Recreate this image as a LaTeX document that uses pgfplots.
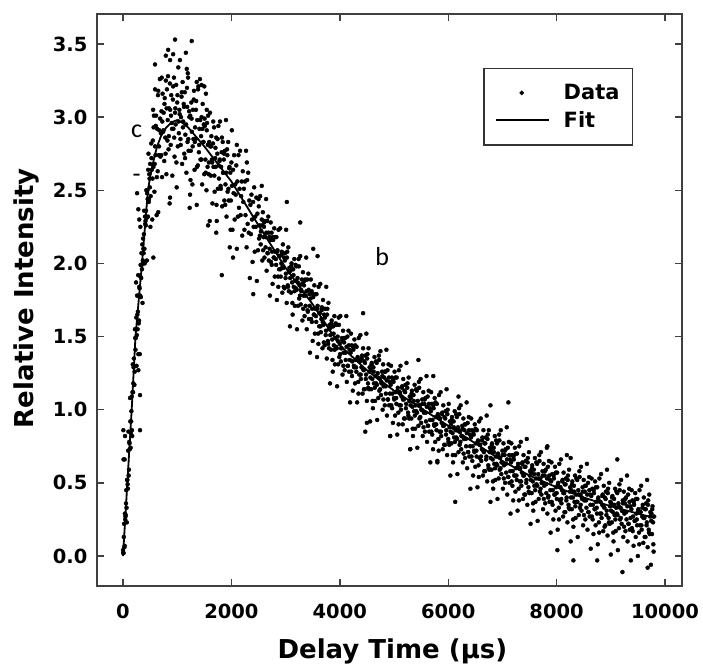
\documentclass[border=0pt]{standalone}
\usepackage{fontspec}
\setmainfont{DejaVu Sans}
\newfontfamily\calibri{Carlito}
\usepackage{pgfplots}
\pgfplotsset{compat=1.18}
\pgfplotsset{
  dotleg/.style={legend image code/.code={\draw[black, only marks, mark=*, mark size=1.4pt] plot coordinates {(26pt,0pt)};}},
  lineleg/.style={legend image code/.code={\draw[black, line width=1.8pt] (0pt,0pt) -- (53pt,0pt);}},
}
\begin{document}
\begin{tikzpicture}
\useasboundingbox (0,0) rectangle (703pt,664pt);
\begin{axis}[
  at={(97pt,78pt)}, anchor=south west,
  width=585pt, height=572pt, scale only axis,
  xmin=-480, xmax=10314, ymin=-0.205, ymax=3.705,
  xtick={0,2000,4000,6000,8000,10000},
  ytick={0,0.5,1,1.5,2,2.5,3,3.5},
  scaled x ticks=false,
  tick align=inside, major tick length=7pt,
  every tick/.style={black!75, line width=1.4pt},
  axis line style={black!75, line width=2pt},
  /pgf/number format/assume math mode=true,
  tick label style={font=\bfseries\fontsize{19.5}{19.5}\selectfont},
  xticklabel style={yshift=-14pt, /pgf/number format/1000 sep={}},
  yticklabel style={xshift=-6pt, /pgf/number format/fixed, /pgf/number format/fixed zerofill, /pgf/number format/precision=1},
  xlabel={Delay Time (µs)}, ylabel={Relative Intensity},
  label style={font=\bfseries\fontsize{26}{26}\selectfont},
  xlabel style={at={(axis description cs:0.505,-0.126)}, anchor=base},
  ylabel style={at={(axis description cs:-0.109,0.503)}, anchor=base},
  legend style={at={(axis description cs:0.66,0.906)}, anchor=north west,
    draw=black!80, line width=1.5pt, font=\bfseries\fontsize{21}{21}\selectfont,
    inner xsep=11pt, inner ysep=14pt, row sep=6pt, column sep=12pt},
  legend cell align=left,
]
% measured data
\addplot[only marks, mark=*, mark size=2pt, black, dotleg]
coordinates {
(0,0.04)(10,0.02)(20,0.22)(30,0.07)(40,0.25)(50,0.28)(60,0.45)(70,0.23)(80,0.52)(90,0.46)
(100,0.85)(110,0.59)(120,0.77)(130,1.08)(140,0.74)(150,0.92)(160,1.09)(170,0.82)(180,1.31)(190,1.18)
(200,1.35)(210,1.17)(220,1.55)(230,1.41)(240,1.87)(250,1.30)(260,1.78)(270,1.55)(280,1.92)(290,1.59)
(300,1.84)(310,1.38)(320,1.91)(330,1.77)(340,2.07)(350,1.96)(360,1.73)(370,2.17)(380,2.07)(390,2.36)
(400,2.00)(410,2.27)(420,2.26)(430,2.50)(440,2.02)(450,2.50)(460,2.32)(470,2.75)(480,2.44)(490,2.58)
(5,0.02)(15,0.13)(25,0.06)(35,0.29)(45,0.27)(55,0.36)(65,0.33)(75,0.52)(85,0.49)(95,0.72)
(105,0.55)(115,0.78)(125,0.73)(135,0.92)(145,0.84)(155,0.99)(165,0.86)(175,1.12)(185,1.12)(195,1.29)
(205,1.30)(215,1.26)(225,1.49)(235,1.49)(245,1.63)(255,1.51)(265,1.65)(275,1.67)(285,1.78)(295,1.61)
(305,1.83)(315,1.78)(325,1.99)(335,1.90)(345,1.99)(355,2.13)(365,2.02)(375,2.10)(385,2.20)(395,2.10)
(405,2.32)(415,2.29)(425,2.36)(435,2.31)(445,2.48)(455,2.44)(465,2.64)(475,2.42)(485,2.61)(495,2.52)
(314,0.86)(283,1.38)(283,1.27)(314,1.10)(6,0.86)(37,0.82)(10,0.66)(30,0.66)(283,2.37)(260,2.48)(300,2.30)(320,2.25)
(500,2.68)(510,2.46)(520,2.82)(530,2.64)(540,2.30)(550,2.84)(560,2.66)(570,3.01)(580,2.49)(590,2.80)
(600,2.74)(610,3.01)(620,2.33)(630,2.92)(640,2.63)(650,3.18)(660,2.74)(670,2.91)(680,3.26)(690,2.73)
(700,2.89)(710,3.04)(720,2.59)(730,3.16)(740,2.90)(750,3.03)(760,2.70)(770,3.13)(780,2.86)(790,3.42)
(800,2.61)(810,3.19)(820,2.84)(830,3.28)(840,2.78)(850,3.06)(860,2.41)(870,3.05)(880,2.81)(890,3.15)
(900,2.96)(910,2.60)(920,3.12)(930,2.92)(940,3.27)(950,2.73)(960,3.03)(970,2.95)(980,3.22)(990,2.52)
(1000,3.10)(1010,2.80)(1020,3.34)(1030,2.89)(1040,3.05)(1050,3.39)(1060,2.85)(1070,3.00)(1080,3.14)(1090,2.68)
(1100,3.24)(1110,2.97)(1120,3.09)(1130,2.75)(1140,3.17)(1150,2.88)(1160,3.44)(1170,2.62)(1180,3.20)(1190,2.83)
(1200,3.27)(1210,2.77)(1220,3.04)(1230,2.38)(1240,3.01)(1250,2.77)(1260,3.10)(1270,2.90)(1280,2.54)(1290,3.05)
(1300,2.85)(1310,3.18)(1320,2.64)(1330,2.93)(1340,2.85)(1350,3.11)(1360,2.40)(1370,2.98)(1380,2.67)(1390,3.21)
(1400,2.76)(1410,2.92)(1420,3.26)(1430,2.71)(1440,2.87)(1450,3.00)(1460,2.54)(1470,3.09)(1480,2.83)(1490,2.95)
(1500,2.61)(1510,2.94)(1520,2.71)(1530,3.16)(1540,2.50)(1550,2.96)(1560,2.66)(1570,3.01)(1580,2.61)(1590,2.83)
(1600,2.29)(1610,2.80)(1620,2.60)(1630,2.87)(1640,2.71)(1650,2.41)(1660,2.82)(1670,2.66)(1680,2.93)(1690,2.49)
(1700,2.72)(1710,2.66)(1720,2.86)(1730,2.29)(1740,2.75)(1750,2.51)(1760,2.94)(1770,2.58)(1780,2.70)(1790,2.97)
(1800,2.53)(1810,2.66)(1820,2.76)(1830,2.39)(1840,2.83)(1850,2.62)(1860,2.71)(1870,2.43)(1880,2.77)(1890,2.54)
(1900,2.98)(1910,2.32)(1920,2.78)(1930,2.49)(1940,2.83)(1950,2.43)(1960,2.65)(1970,2.11)(1980,2.62)(1990,2.43)
(2000,2.69)(2010,2.53)(2020,2.23)(2030,2.64)(2040,2.48)(2050,2.74)(2060,2.30)(2070,2.54)(2080,2.47)(2090,2.67)
(2100,2.10)(2110,2.56)(2120,2.32)(2130,2.74)(2140,2.38)(2150,2.51)(2160,2.77)(2170,2.33)(2180,2.46)(2190,2.56)
(2200,2.19)(2210,2.63)(2220,2.42)(2230,2.51)(2240,2.23)(2250,2.56)(2260,2.33)(2270,2.77)(2280,2.11)(2290,2.57)
(2300,2.27)(2310,2.62)(2320,2.21)(2330,2.43)(2340,1.90)(2350,2.40)(2360,2.20)(2370,2.47)(2380,2.30)(2390,2.01)
(2400,2.42)(2410,2.25)(2420,2.52)(2430,2.08)(2440,2.32)(2450,2.25)(2460,2.45)(2470,1.88)(2480,2.34)(2490,2.09)
(505,2.25)(525,2.72)(545,2.58)(565,2.93)(585,2.68)(605,2.94)(625,2.59)(645,3.15)(665,2.80)(685,2.99)
(705,2.74)(725,2.97)(745,2.91)(765,3.09)(785,2.75)(805,3.06)(825,2.98)(845,2.87)(865,3.23)(885,3.01)
(905,2.92)(925,3.21)(945,2.86)(965,3.06)(985,2.69)(1005,3.15)(1025,2.97)(1045,3.02)(1065,2.81)(1085,3.17)
(1105,2.93)(1125,3.07)(1145,2.72)(1165,2.95)(1185,3.07)(1205,2.85)(1225,3.00)(1245,2.57)(1265,2.99)(1285,2.80)
(1305,3.12)(1325,2.83)(1345,3.05)(1365,2.66)(1385,3.19)(1405,2.81)(1425,2.98)(1445,2.71)(1465,2.92)(1485,2.83)
(1505,2.99)(1525,2.62)(1545,2.91)(1565,2.81)(1585,2.69)(1605,3.03)(1625,2.80)(1645,2.69)(1665,2.97)(1685,2.60)
(1705,2.79)(1725,2.40)(1745,2.85)(1765,2.67)(1785,2.71)(1805,2.51)(1825,2.86)(1845,2.62)(1865,2.75)(1885,2.40)
(1905,2.62)(1925,2.74)(1945,2.51)(1965,2.66)(1985,2.23)
(960,3.53)(1268,3.52)(833,3.46)(925,3.43)(591,3.36)(868,3.39)(1176,3.33)(1195,3.30)(714,3.27)(790,3.25)
(1360,3.24)(1450,3.22)(1500,3.21)(591,3.19)(1545,3.05)(555,3.05)(2008,2.91)(2100,2.81)(2285,2.69)(2560,2.53)
(3023,2.42)(3270,2.28)(3510,2.10)(3590,2.05)(4430,1.66)(1823,1.92)(2403,1.79)(2030,2.04)(1720,2.21)(868,2.45)
(1237,2.47)(650,2.35)(1570,2.26)(560,2.04)
(2500,2.44)(2510,2.17)(2520,2.26)(2530,2.46)(2540,2.13)(2550,2.22)(2560,2.30)(2570,2.02)(2580,2.35)(2590,2.18)
(2600,2.25)(2610,2.04)(2620,2.29)(2630,2.11)(2640,2.44)(2650,1.95)(2660,2.29)(2670,2.07)(2680,2.32)(2690,2.02)
(2700,2.18)(2710,1.78)(2720,2.16)(2730,2.01)(2740,2.21)(2750,2.08)(2760,1.86)(2770,2.16)(2780,2.04)(2790,2.24)
(2800,1.91)(2810,2.08)(2820,2.03)(2830,2.18)(2840,1.75)(2850,2.09)(2860,1.91)(2870,2.23)(2880,1.96)(2890,2.05)
(2900,2.24)(2910,1.91)(2920,2.00)(2930,2.08)(2940,1.80)(2950,2.13)(2960,1.97)(2970,2.04)(2980,1.83)(2990,2.07)
(3000,1.90)(3010,2.23)(3020,1.73)(3030,2.08)(3040,1.85)(3050,2.11)(3060,1.81)(3070,1.97)(3080,1.57)(3090,1.95)
(3100,1.80)(3110,2.00)(3120,1.87)(3130,1.65)(3140,1.96)(3150,1.84)(3160,2.03)(3170,1.71)(3180,1.88)(3190,1.83)
(3200,1.98)(3210,1.55)(3220,1.90)(3230,1.71)(3240,2.03)(3250,1.76)(3260,1.85)(3270,2.05)(3280,1.72)(3290,1.81)
(3300,1.89)(3310,1.61)(3320,1.94)(3330,1.78)(3340,1.85)(3350,1.64)(3360,1.89)(3370,1.71)(3380,2.04)(3390,1.55)
(3400,1.89)(3410,1.67)(3420,1.93)(3430,1.62)(3440,1.79)(3450,1.39)(3460,1.76)(3470,1.62)(3480,1.81)(3490,1.69)
(3500,1.47)(3510,1.77)(3520,1.65)(3530,1.85)(3540,1.52)(3550,1.69)(3560,1.64)(3570,1.79)(3580,1.36)(3590,1.71)
(3600,1.52)(3610,1.84)(3620,1.57)(3630,1.66)(3640,1.86)(3650,1.53)(3660,1.62)(3670,1.70)(3680,1.42)(3690,1.75)
(3700,1.58)(3710,1.65)(3720,1.44)(3730,1.69)(3740,1.51)(3750,1.84)(3760,1.35)(3770,1.69)(3780,1.47)(3790,1.73)
(3800,1.42)(3810,1.58)(3820,1.18)(3830,1.56)(3840,1.41)(3850,1.61)(3860,1.48)(3870,1.26)(3880,1.57)(3890,1.44)
(3900,1.64)(3910,1.31)(3920,1.49)(3930,1.43)(3940,1.58)(3950,1.16)(3960,1.50)(3970,1.31)(3980,1.63)(3990,1.36)
(4000,1.45)(4010,1.64)(4020,1.33)(4030,1.42)(4040,1.49)(4050,1.24)(4060,1.54)(4070,1.39)(4080,1.46)(4090,1.27)
(4100,1.49)(4110,1.34)(4120,1.64)(4130,1.19)(4140,1.50)(4150,1.30)(4160,1.54)(4170,1.26)(4180,1.41)(4190,1.05)
(4200,1.39)(4210,1.26)(4220,1.44)(4230,1.33)(4240,1.13)(4250,1.41)(4260,1.30)(4270,1.48)(4280,1.18)(4290,1.34)
(4300,1.29)(4310,1.43)(4320,1.05)(4330,1.36)(4340,1.19)(4350,1.49)(4360,1.24)(4370,1.33)(4380,1.51)(4390,1.21)
(4400,1.29)(4410,1.37)(4420,1.11)(4430,1.42)(4440,1.27)(4450,1.33)(4460,1.14)(4470,1.37)(4480,1.21)(4490,1.52)
(4500,1.06)(4510,1.38)(4520,1.18)(4530,1.42)(4540,1.14)(4550,1.29)(4560,0.92)(4570,1.27)(4580,1.14)(4590,1.32)
(4600,1.21)(4610,1.01)(4620,1.29)(4630,1.18)(4640,1.36)(4650,1.06)(4660,1.23)(4670,1.18)(4680,1.32)(4690,0.93)
(4700,1.25)(4710,1.08)(4720,1.37)(4730,1.13)(4740,1.21)(4750,1.40)(4760,1.10)(4770,1.18)(4780,1.26)(4790,1.00)
(4800,1.31)(4810,1.16)(4820,1.22)(4830,1.03)(4840,1.26)(4850,1.11)(4860,1.41)(4870,0.96)(4880,1.27)(4890,1.07)
(4900,1.31)(4910,1.03)(4920,1.19)(4930,0.82)(4940,1.17)(4950,1.03)(4960,1.22)(4970,1.11)(4980,0.91)(4990,1.19)
(5000,1.08)(5010,1.26)(5020,0.96)(5030,1.12)(5040,1.08)(5050,1.22)(5060,0.83)(5070,1.15)(5080,0.98)(5090,1.27)
(5100,1.03)(5110,1.11)(5120,1.30)(5130,1.00)(5140,1.09)(5150,1.16)(5160,0.90)(5170,1.21)(5180,1.07)(5190,1.13)
(5200,0.94)(5210,1.17)(5220,1.01)(5230,1.32)(5240,0.86)(5250,1.18)(5260,0.98)(5270,1.22)(5280,0.94)(5290,1.09)
(5300,0.73)(5310,1.08)(5320,0.94)(5330,1.13)(5340,1.02)(5350,0.82)(5360,1.10)(5370,0.99)(5380,1.17)(5390,0.87)
(5400,1.03)(5410,0.99)(5420,1.13)(5430,0.74)(5440,1.06)(5450,0.89)(5460,1.19)(5470,0.94)(5480,1.03)(5490,1.21)
(5500,0.91)(5510,1.00)(5520,1.07)(5530,0.82)(5540,1.12)(5550,0.98)(5560,1.04)(5570,0.85)(5580,1.08)(5590,0.92)
(5600,1.23)(5610,0.78)(5620,1.09)(5630,0.89)(5640,1.13)(5650,0.85)(5660,1.01)(5670,0.64)(5680,0.99)(5690,0.85)
(5700,1.04)(5710,0.93)(5720,0.73)(5730,1.01)(5740,0.90)(5750,1.08)(5760,0.78)(5770,0.95)(5780,0.90)(5790,1.04)
(5800,0.65)(5810,0.97)(5820,0.80)(5830,1.10)(5840,0.85)(5850,0.94)(5860,1.12)(5870,0.82)(5880,0.91)(5890,0.98)
(5900,0.73)(5910,1.03)(5920,0.89)(5930,0.95)(5940,0.76)(5950,0.99)(5960,0.83)(5970,1.14)(5980,0.69)(5990,1.00)
(6000,0.80)(6010,1.04)(6020,0.76)(6030,0.92)(6040,0.55)(6050,0.90)(6060,0.77)(6070,0.95)(6080,0.84)(6090,0.64)
(6100,0.92)(6110,0.81)(6120,0.99)(6130,0.69)(6140,0.86)(6150,0.81)(6160,0.95)(6170,0.56)(6180,0.88)(6190,0.71)
(6200,1.01)(6210,0.76)(6220,0.85)(6230,1.03)(6240,0.73)(6250,0.82)(6260,0.89)(6270,0.64)(6280,0.94)(6290,0.80)
(6300,0.86)(6310,0.67)(6320,0.90)(6330,0.75)(6340,1.05)(6350,0.60)(6360,0.91)(6370,0.71)(6380,0.95)(6390,0.68)
(6400,0.83)(6410,0.46)(6420,0.81)(6430,0.68)(6440,0.86)(6450,0.75)(6460,0.55)(6470,0.83)(6480,0.72)(6490,0.90)
(6500,0.61)(6510,0.77)(6520,0.72)(6530,0.86)(6540,0.47)(6550,0.79)(6560,0.62)(6570,0.92)(6580,0.67)(6590,0.76)
(6600,0.94)(6610,0.65)(6620,0.73)(6630,0.81)(6640,0.55)(6650,0.86)(6660,0.71)(6670,0.77)(6680,0.58)(6690,0.81)
(6700,0.66)(6710,0.96)(6720,0.51)(6730,0.83)(6740,0.62)(6750,0.86)(6760,0.59)(6770,0.74)(6780,0.37)(6790,0.72)
(6800,0.59)(6810,0.77)(6820,0.66)(6830,0.46)(6840,0.74)(6850,0.63)(6860,0.82)(6870,0.52)(6880,0.68)(6890,0.63)
(6900,0.77)(6910,0.39)(6920,0.70)(6930,0.53)(6940,0.83)(6950,0.59)(6960,0.67)(6970,0.86)(6980,0.56)(6990,0.64)
(7000,0.72)(7010,0.46)(7020,0.77)(7030,0.62)(7040,0.69)(7050,0.50)(7060,0.73)(7070,0.57)(7080,0.88)(7090,0.42)
(7100,0.74)(7110,0.54)(7120,0.78)(7130,0.50)(7140,0.66)(7150,0.29)(7160,0.64)(7170,0.51)(7180,0.69)(7190,0.58)
(7200,0.38)(7210,0.66)(7220,0.55)(7230,0.74)(7240,0.44)(7250,0.60)(7260,0.55)(7270,0.70)(7280,0.31)(7290,0.63)
(7300,0.46)(7310,0.75)(7320,0.51)(7330,0.60)(7340,0.78)(7350,0.48)(7360,0.57)(7370,0.64)(7380,0.39)(7390,0.69)
(7400,0.55)(7410,0.61)(7420,0.42)(7430,0.65)(7440,0.50)(7450,0.80)(7460,0.35)(7470,0.67)(7480,0.47)(7490,0.71)
(7500,0.43)(7510,0.58)(7520,0.22)(7530,0.57)(7540,0.43)(7550,0.62)(7560,0.51)(7570,0.31)(7580,0.59)(7590,0.48)
(7600,0.67)(7610,0.37)(7620,0.53)(7630,0.49)(7640,0.63)(7650,0.24)(7660,0.56)(7670,0.39)(7680,0.69)(7690,0.44)
(7700,0.53)(7710,0.71)(7720,0.42)(7730,0.50)(7740,0.58)(7750,0.32)(7760,0.63)(7770,0.48)(7780,0.55)(7790,0.36)
(7800,0.59)(7810,0.43)(7820,0.74)(7830,0.29)(7840,0.61)(7850,0.41)(7860,0.65)(7870,0.37)(7880,0.52)(7890,0.16)
(7900,0.51)(7910,0.37)(7920,0.56)(7930,0.45)(7940,0.25)(7950,0.53)(7960,0.42)(7970,0.61)(7980,0.31)(7990,0.47)
(8000,0.43)(8010,0.57)(8020,0.18)(8030,0.50)(8040,0.33)(8050,0.63)(8060,0.38)(8070,0.47)(8080,0.66)(8090,0.36)
(8100,0.45)(8110,0.52)(8120,0.27)(8130,0.57)(8140,0.43)(8150,0.49)(8160,0.30)(8170,0.53)(8180,0.38)(8190,0.69)
(8200,0.23)(8210,0.55)(8220,0.35)(8230,0.59)(8240,0.32)(8250,0.47)(8260,0.10)(8270,0.45)(8280,0.32)(8290,0.51)
(8300,0.40)(8310,0.20)(8320,0.48)(8330,0.37)(8340,0.55)(8350,0.26)(8360,0.42)(8370,0.37)(8380,0.52)(8390,0.13)
(8400,0.45)(8410,0.28)(8420,0.58)(8430,0.33)(8440,0.42)(8450,0.61)(8460,0.31)(8470,0.39)(8480,0.47)(8490,0.21)
(8500,0.52)(8510,0.38)(8520,0.44)(8530,0.25)(8540,0.48)(8550,0.33)(8560,0.63)(8570,0.18)(8580,0.50)(8590,0.30)
(8600,0.54)(8610,0.27)(8620,0.42)(8630,0.05)(8640,0.41)(8650,0.27)(8660,0.46)(8670,0.35)(8680,0.15)(8690,0.43)
(8700,0.32)(8710,0.51)(8720,0.21)(8730,0.37)(8740,0.33)(8750,0.47)(8760,0.08)(8770,0.40)(8780,0.23)(8790,0.53)
(8800,0.29)(8810,0.37)(8820,0.56)(8830,0.26)(8840,0.35)(8850,0.42)(8860,0.17)(8870,0.48)(8880,0.33)(8890,0.40)
(8900,0.21)(8910,0.44)(8920,0.28)(8930,0.59)(8940,0.14)(8950,0.46)(8960,0.26)(8970,0.50)(8980,0.22)(8990,0.37)
(9000,0.01)(9010,0.36)(9020,0.23)(9030,0.41)(9040,0.30)(9050,0.10)(9060,0.39)(9070,0.28)(9080,0.46)(9090,0.17)
(9100,0.33)(9110,0.29)(9120,0.43)(9130,0.04)(9140,0.36)(9150,0.19)(9160,0.49)(9170,0.25)(9180,0.33)(9190,0.52)
(9200,0.22)(9210,0.31)(9220,0.38)(9230,0.13)(9240,0.44)(9250,0.29)(9260,0.36)(9270,0.17)(9280,0.40)(9290,0.25)
(9300,0.55)(9310,0.10)(9320,0.42)(9330,0.22)(9340,0.46)(9350,0.18)(9360,0.34)(9370,-0.03)(9380,0.32)(9390,0.19)
(9400,0.38)(9410,0.27)(9420,0.07)(9430,0.35)(9440,0.24)(9450,0.43)(9460,0.13)(9470,0.29)(9480,0.25)(9490,0.39)
(9500,0.00)(9510,0.32)(9520,0.16)(9530,0.45)(9540,0.21)(9550,0.30)(9560,0.48)(9570,0.18)(9580,0.27)(9590,0.35)
(9600,0.09)(9610,0.40)(9620,0.26)(9630,0.32)(9640,0.13)(9650,0.36)(9660,0.21)(9670,0.52)(9680,0.06)(9690,0.38)
(9700,0.18)(9710,0.42)(9720,0.15)(9730,0.30)(9740,-0.06)(9750,0.29)(9760,0.15)(9770,0.34)(9780,0.23)(9790,0.03)(9800,0.27)
(5450,1.34)(7110,1.05)(6780,1.03)(6130,0.37)(4470,0.85)(4500,0.91)(4930,0.82)(5300,0.73)(5800,0.64)(9120,0.66)
(8310,-0.03)(8750,-0.03)(9215,-0.11)(9680,-0.08)(8015,0.04)(5725,1.23)(6190,1.09)(7830,0.75)(8260,0.67)
(2505,2.39)(2525,2.19)(2545,2.22)(2565,2.26)(2585,2.09)(2605,2.28)(2625,2.18)(2645,2.21)(2665,2.07)(2685,2.21)
(2705,2.10)(2725,2.28)(2745,1.99)(2765,2.18)(2785,2.04)(2805,2.18)(2825,1.99)(2845,2.08)(2865,1.84)(2885,2.05)
(2905,1.96)(2925,2.06)(2945,1.98)(2965,1.84)(2985,2.02)(3005,1.93)(3025,2.04)(3045,1.84)(3065,1.94)(3085,1.90)
(3105,1.98)(3125,1.73)(3145,1.92)(3165,1.81)(3185,1.99)(3205,1.82)(3225,1.87)(3245,1.98)(3265,1.78)(3285,1.82)
(3305,1.86)(3325,1.69)(3345,1.88)(3365,1.78)(3385,1.81)(3405,1.68)(3425,1.82)(3445,1.71)(3465,1.89)(3485,1.60)
(3505,1.79)(3525,1.65)(3545,1.79)(3565,1.60)(3585,1.69)(3605,1.45)(3625,1.66)(3645,1.57)(3665,1.68)(3685,1.60)
(3705,1.46)(3725,1.63)(3745,1.54)(3765,1.65)(3785,1.45)(3805,1.55)(3825,1.51)(3845,1.59)(3865,1.34)(3885,1.52)
(3905,1.41)(3925,1.59)(3945,1.42)(3965,1.47)(3985,1.58)(4005,1.38)(4025,1.42)(4045,1.47)(4065,1.30)(4085,1.49)
(4105,1.39)(4125,1.43)(4145,1.30)(4165,1.44)(4185,1.34)(4205,1.52)(4225,1.23)(4245,1.43)(4265,1.29)(4285,1.44)
(4305,1.26)(4325,1.35)(4345,1.11)(4365,1.33)(4385,1.24)(4405,1.35)(4425,1.28)(4445,1.14)(4465,1.32)(4485,1.24)
(4505,1.35)(4525,1.15)(4545,1.26)(4565,1.22)(4585,1.31)(4605,1.06)(4625,1.26)(4645,1.15)(4665,1.33)(4685,1.17)
(4705,1.22)(4725,1.34)(4745,1.14)(4765,1.19)(4785,1.23)(4805,1.07)(4825,1.26)(4845,1.16)(4865,1.20)(4885,1.07)
(4905,1.22)(4925,1.11)(4945,1.30)(4965,1.01)(4985,1.20)(5005,1.07)(5025,1.22)(5045,1.04)(5065,1.13)(5085,0.90)
(5105,1.12)(5125,1.03)(5145,1.15)(5165,1.07)(5185,0.94)(5205,1.12)(5225,1.04)(5245,1.15)(5265,0.96)(5285,1.06)
(5305,1.03)(5325,1.11)(5345,0.87)(5365,1.06)(5385,0.96)(5405,1.14)(5425,0.98)(5445,1.03)(5465,1.15)(5485,0.95)
(5505,1.00)(5525,1.04)(5545,0.88)(5565,1.07)(5585,0.98)(5605,1.02)(5625,0.89)(5645,1.04)(5665,0.93)(5685,1.12)
(5705,0.83)(5725,1.03)(5745,0.89)(5765,1.05)(5785,0.86)(5805,0.96)(5825,0.72)(5845,0.94)(5865,0.85)(5885,0.97)
(5905,0.89)(5925,0.76)(5945,0.94)(5965,0.86)(5985,0.97)(6005,0.78)(6025,0.88)(6045,0.85)(6065,0.93)(6085,0.69)
(6105,0.88)(6125,0.78)(6145,0.97)(6165,0.80)(6185,0.86)(6205,0.97)(6225,0.78)(6245,0.82)(6265,0.87)(6285,0.70)
(6305,0.90)(6325,0.80)(6345,0.84)(6365,0.71)(6385,0.86)(6405,0.75)(6425,0.94)(6445,0.65)(6465,0.85)(6485,0.71)
(6505,0.87)(6525,0.68)(6545,0.78)(6565,0.54)(6585,0.76)(6605,0.68)(6625,0.79)(6645,0.72)(6665,0.58)(6685,0.77)
(6705,0.68)(6725,0.80)(6745,0.60)(6765,0.71)(6785,0.67)(6805,0.76)(6825,0.51)(6845,0.71)(6865,0.60)(6885,0.79)
(6905,0.62)(6925,0.68)(6945,0.79)(6965,0.60)(6985,0.64)(7005,0.69)(7025,0.53)(7045,0.72)(7065,0.63)(7085,0.66)
(7105,0.54)(7125,0.69)(7145,0.58)(7165,0.77)(7185,0.48)(7205,0.68)(7225,0.55)(7245,0.70)(7265,0.52)(7285,0.61)
(7305,0.38)(7325,0.60)(7345,0.51)(7365,0.63)(7385,0.55)(7405,0.42)(7425,0.61)(7445,0.52)(7465,0.64)(7485,0.44)
(7505,0.55)(7525,0.52)(7545,0.60)(7565,0.36)(7585,0.56)(7605,0.45)(7625,0.64)(7645,0.48)(7665,0.53)(7685,0.65)
(7705,0.46)(7725,0.50)(7745,0.55)(7765,0.39)(7785,0.58)(7805,0.49)(7825,0.53)(7845,0.40)(7865,0.55)(7885,0.45)
(7905,0.64)(7925,0.35)(7945,0.55)(7965,0.42)(7985,0.57)(8005,0.39)(8025,0.49)(8045,0.25)(8065,0.47)(8085,0.39)
(8105,0.51)(8125,0.43)(8145,0.30)(8165,0.49)(8185,0.40)(8205,0.52)(8225,0.33)(8245,0.44)(8265,0.40)(8285,0.49)
(8305,0.25)(8325,0.44)(8345,0.34)(8365,0.53)(8385,0.37)(8405,0.42)(8425,0.54)(8445,0.35)(8465,0.40)(8485,0.44)
(8505,0.28)(8525,0.48)(8545,0.38)(8565,0.42)(8585,0.30)(8605,0.45)(8625,0.35)(8645,0.53)(8665,0.25)(8685,0.45)
(8705,0.32)(8725,0.47)(8745,0.29)(8765,0.39)(8785,0.16)(8805,0.37)(8825,0.29)(8845,0.41)(8865,0.34)(8885,0.20)
(8905,0.39)(8925,0.31)(8945,0.43)(8965,0.23)(8985,0.34)(9005,0.31)(9025,0.40)(9045,0.16)(9065,0.35)(9085,0.25)
(9105,0.44)(9125,0.28)(9145,0.34)(9165,0.45)(9185,0.26)(9205,0.31)(9225,0.36)(9245,0.20)(9265,0.39)(9285,0.30)
(9305,0.34)(9325,0.22)(9345,0.37)(9365,0.26)(9385,0.45)(9405,0.17)(9425,0.37)(9445,0.24)(9465,0.39)(9485,0.21)
(9505,0.31)(9525,0.08)(9545,0.30)(9565,0.21)(9585,0.33)(9605,0.26)(9625,0.13)(9645,0.32)(9665,0.23)(9685,0.35)
(9705,0.16)(9725,0.27)(9745,0.24)(9765,0.32)(9785,0.08)
};
\addlegendentry{Data}
% fitted curve
\addplot[black, line width=1.8pt, line join=round, no marks, lineleg]
coordinates {
(0,0)(80,0.5)(160,1.0)(230,1.5)(350,2.0)(460,2.5)(500,2.59)(550,2.68)(590,2.745)(630,2.8)
(700,2.87)(800,2.93)(900,2.965)(1000,2.98)(1100,2.96)(1200,2.93)(1500,2.80)(2000,2.56)(2500,2.26)
(3000,1.97)(3500,1.72)(4000,1.44)(4500,1.27)(5000,1.13)(5500,1.01)(6000,0.89)(6500,0.77)
(7000,0.65)(7500,0.55)(8000,0.47)(8500,0.40)(9000,0.34)(9500,0.29)(9800,0.26)
};
\addlegendentry{Fit}
\node[font=\calibri\fontsize{26}{26}\selectfont] at (axis cs:250,2.90) {c};
\node[font=\calibri\fontsize{26}{26}\selectfont] at (axis cs:250,2.58) {-};
\node[font=\calibri\fontsize{26}{26}\selectfont] at (axis cs:4783,2.05) {b};
\end{axis}
\end{tikzpicture}
\end{document}
